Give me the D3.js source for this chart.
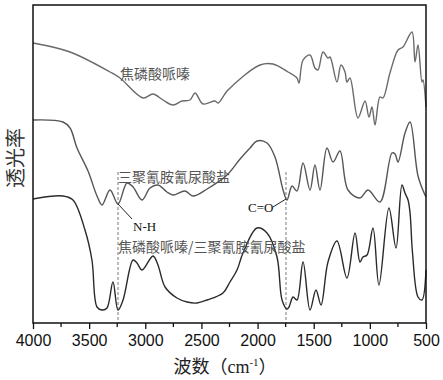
<!DOCTYPE html>
<html>
<head>
<meta charset="utf-8">
<script src="https://cdn.jsdelivr.net/npm/d3@7"></script>
<style>
  body { margin: 0; background: #fff; }
  svg { display: block; }
</style>
</head>
<body>
<svg id="svg" width="443" height="380"></svg>
<script>
// wavenumber (cm-1) / relative transmittance
const pyrophosphate = [
  [4000, 280], [3670, 271], [3314, 251], [3225, 245], [3020, 225], [2931, 229],
  [2842, 223], [2753, 218], [2673, 222], [2602, 223], [2557, 230], [2486, 219],
  [2379, 222], [2352, 220], [2263, 233], [1978, 258], [1863, 259], [1729, 251],
  [1649, 245], [1631, 240], [1595, 263], [1533, 268], [1489, 255], [1462, 253],
  [1417, 271], [1373, 265], [1355, 266], [1293, 241], [1257, 258], [1221, 251],
  [1204, 241], [1177, 245], [1106, 205], [1043, 222], [1008, 206], [981, 216],
  [954, 198], [910, 226], [883, 225], [821, 250], [749, 273], [705, 276],
  [625, 291], [598, 261], [571, 278], [536, 241], [527, 243], [500, 216]
];
const melamineCyanurate = [
  [4000, 203], [3733, 201], [3670, 195], [3608, 175], [3510, 152], [3430, 127],
  [3385, 118], [3314, 133], [3243, 119], [3163, 140], [3109, 136], [3029, 123],
  [2958, 135], [2887, 138], [2807, 131], [2753, 128], [2646, 132], [2575, 127],
  [2450, 134], [2272, 148], [2156, 164], [2067, 175], [2005, 182], [1916, 180],
  [1845, 166], [1773, 133], [1738, 123], [1693, 137], [1649, 132], [1595, 160],
  [1533, 133], [1489, 158], [1444, 133], [1382, 175], [1328, 161], [1266, 172],
  [1195, 133], [1088, 125], [1016, 133], [910, 121], [803, 170], [776, 169],
  [749, 161], [687, 190], [642, 201], [571, 147], [509, 128], [500, 126]
];
const composite = [
  [4000, 124], [3733, 127], [3644, 123], [3537, 93], [3475, 63], [3430, 16],
  [3385, 13], [3341, 15], [3288, 41], [3243, 13], [3198, 23], [3109, 63],
  [3074, 60], [3029, 53], [2931, 67], [2887, 58], [2824, 36], [2718, 25],
  [2628, 21], [2539, 20], [2450, 23], [2308, 30], [2246, 41], [2183, 53],
  [2130, 70], [2005, 95], [1916, 90], [1827, 66], [1782, 23], [1738, 14],
  [1720, 16], [1684, 26], [1649, 23], [1595, 61], [1533, 13], [1480, 33],
  [1435, 18], [1373, 61], [1293, 82], [1204, 45], [1132, 90], [1088, 61],
  [1061, 66], [1025, 68], [972, 95], [919, 38], [830, 115], [767, 75],
  [714, 138], [687, 130], [660, 123], [642, 110], [620, 70], [571, 26],
  [536, 23], [500, 53]
];
const xTicks = [4000, 3500, 3000, 2500, 2000, 1500, 1000, 500];
const xMinorTicks = [3750, 3250, 2750, 2250, 1750, 1250, 750];
const peakLines = [3243, 1747];

const svg = d3.select("#svg");
const margin = { top: 5, right: 17, bottom: 57, left: 33 };
const W = 443, H = 380;

const x = d3.scaleLinear().domain([4000, 500]).range([margin.left, W - margin.right]);
const y = d3.scaleLinear().domain([0, 318]).range([H - margin.bottom, margin.top]);

const cjk = "'Noto Sans CJK SC', sans-serif";

// dashed reference lines
svg.selectAll(".peak")
  .data(peakLines)
  .enter()
  .append("line")
  .attr("x1", d => x(d)).attr("x2", d => x(d))
  .attr("y1", y(151)).attr("y2", y(0))
  .attr("stroke", "#555")
  .attr("stroke-width", 0.8)
  .attr("stroke-dasharray", "3,2");

const line = d3.line()
  .x(d => x(d[0]))
  .y(d => y(d[1]))
  .curve(d3.curveCatmullRom.alpha(0.5));

const series = [
  { data: pyrophosphate, color: "#6a6a6a" },
  { data: melamineCyanurate, color: "#555" },
  { data: composite, color: "#2a2a2a" }
];

svg.selectAll(".spec")
  .data(series)
  .enter()
  .append("path")
  .attr("d", d => line(d.data))
  .attr("fill", "none")
  .attr("stroke", d => d.color)
  .attr("stroke-width", 1.4);

// frame
svg.append("rect")
  .attr("x", margin.left).attr("y", margin.top)
  .attr("width", W - margin.left - margin.right)
  .attr("height", H - margin.top - margin.bottom)
  .attr("fill", "none")
  .attr("stroke", "#111")
  .attr("stroke-width", 1.5);

// x axis
const xAxis = svg.append("g")
  .attr("transform", `translate(0,${H - margin.bottom})`)
  .call(d3.axisBottom(x).tickValues(xTicks).tickSize(6).tickPadding(6).tickFormat(d3.format("d")));
xAxis.select(".domain").remove();
xAxis.selectAll("line").attr("stroke", "#111").attr("stroke-width", 1.3);
xAxis.selectAll("text")
  .attr("font-family", "'Liberation Sans', Arial, sans-serif")
  .attr("font-size", 16)
  .attr("fill", "#111");

svg.append("g")
  .attr("transform", `translate(0,${H - margin.bottom})`)
  .selectAll("line")
  .data(xMinorTicks)
  .enter()
  .append("line")
  .attr("x1", d => x(d)).attr("x2", d => x(d))
  .attr("y1", 0).attr("y2", 4)
  .attr("stroke", "#111").attr("stroke-width", 1.3);

// axis titles
const xt = svg.append("text")
  .attr("x", 225).attr("y", 373)
  .attr("text-anchor", "middle")
  .attr("font-family", cjk)
  .attr("font-size", 18)
  .attr("fill", "#222");
xt.append("tspan").text("波数（");
xt.append("tspan").attr("font-family", "'Liberation Serif', serif").text("cm");
xt.append("tspan").attr("font-family", "'Liberation Serif', serif")
  .attr("font-size", 11).attr("dy", -7).text("-1");
xt.append("tspan").attr("dy", 7).text("）");

svg.append("text")
  .attr("transform", "translate(23,158) rotate(-90)")
  .attr("text-anchor", "middle")
  .attr("font-family", cjk)
  .attr("font-size", 20)
  .attr("fill", "#333")
  .text("透光率");

// curve labels
const labels = [
  { t: "焦磷酸哌嗪", w: 3225, v: 244 },
  { t: "三聚氰胺氰尿酸盐", w: 3243, v: 141 },
  { t: "焦磷酸哌嗪/三聚氰胺氰尿酸盐", w: 3243, v: 71 }
];
svg.selectAll(".lbl")
  .data(labels)
  .enter()
  .append("text")
  .attr("x", d => x(d.w)).attr("y", d => y(d.v))
  .attr("font-family", cjk)
  .attr("font-size", 14)
  .attr("fill", "#555")
  .text(d => d.t);

// peak annotations
const notes = [
  { t: "N-H", tw: 3109, tv: 92, from: [3243, 119], to: [3118, 104] },
  { t: "C=O", tw: 2085, tv: 111, from: [1747, 124], to: [1863, 116] }
];
svg.selectAll(".note-line")
  .data(notes)
  .enter()
  .append("line")
  .attr("x1", d => x(d.from[0])).attr("y1", d => y(d.from[1]))
  .attr("x2", d => x(d.to[0])).attr("y2", d => y(d.to[1]))
  .attr("stroke", "#222").attr("stroke-width", 1);
svg.selectAll(".note")
  .data(notes)
  .enter()
  .append("text")
  .attr("x", d => x(d.tw)).attr("y", d => y(d.tv))
  .attr("font-family", "'Liberation Serif', serif")
  .attr("font-size", 13)
  .attr("fill", "#111")
  .text(d => d.t);
</script>
</body>
</html>
